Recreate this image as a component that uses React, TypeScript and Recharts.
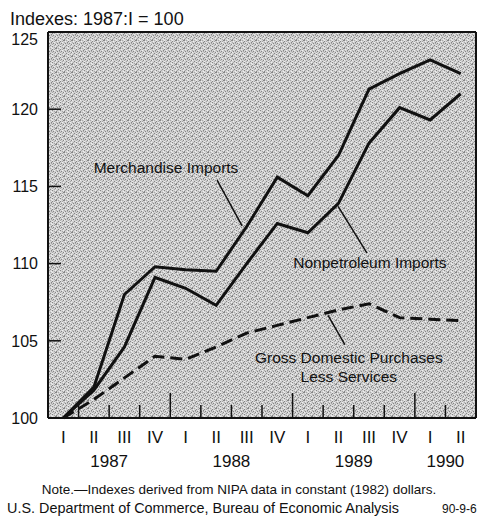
import React from 'react';
import {
  LineChart,
  Line,
  XAxis,
  YAxis,
  CartesianGrid,
  ReferenceLine,
  ReferenceDot,
  Customized,
} from 'recharts';

// ---- data ----
const quarters = ['I', 'II', 'III', 'IV', 'I', 'II', 'III', 'IV', 'I', 'II', 'III', 'IV', 'I', 'II'];
const yearOfQuarter = ['1987', '1987', '1987', '1987', '1988', '1988', '1988', '1988', '1989', '1989', '1989', '1989', '1990', '1990'];
const merchandise = [100, 102.0, 108.0, 109.8, 109.6, 109.5, 112.4, 115.6, 114.4, 117.0, 121.3, 122.3, 123.2, 122.3];
const nonpetroleum = [100, 101.8, 104.6, 109.1, 108.4, 107.3, 110.0, 112.6, 112.0, 113.9, 117.8, 120.1, 119.3, 121.0];
const grossDomestic = [100, 101.2, 102.6, 104.0, 103.8, 104.6, 105.5, 106.0, 106.5, 107.0, 107.4, 106.5, 106.4, 106.3];
const yTicks = [100, 105, 110, 115, 120, 125];

const titleText = 'Indexes: 1987:I = 100';
const noteText = 'Note.\u2014Indexes derived from NIPA data in constant (1982) dollars.';
const sourceText = 'U.S. Department of Commerce, Bureau of Economic Analysis';
const codeText = '90-9-6';

const FONT = '"Liberation Sans", Arial, Helvetica, sans-serif';

const rows = quarters.map((q, i) => ({
  i,
  merch: merchandise[i],
  nonpet: nonpetroleum[i],
  gdp: grossDomestic[i],
}));

// x ticks: quarter centres (labels) and quarter boundaries (inner tick marks)
const xTicks: number[] = [];
for (let i = 0; i < quarters.length; i++) {
  xTicks.push(i);
  if (i < quarters.length - 1) xTicks.push(i + 0.5);
}

// year label centred on its quarters
const yearCenters: Record<string, string> = {};
{
  const seen: Record<string, number[]> = {};
  yearOfQuarter.forEach((y, i) => {
    (seen[y] = seen[y] || []).push(i);
  });
  Object.keys(seen).forEach((y) => {
    const idx = seen[y];
    yearCenters[String((idx[0] + idx[idx.length - 1]) / 2)] = y;
  });
}

const XTick = (props: any) => {
  const { x, y, payload } = props;
  const v = payload.value as number;
  if (Number.isInteger(v)) {
    return (
      <text x={x} y={y + 25} textAnchor="middle" fontSize={17} fontFamily={FONT} fill="#111">
        {quarters[v]}
      </text>
    );
  }
  const isYearBreak = yearOfQuarter[Math.floor(v)] !== yearOfQuarter[Math.ceil(v)];
  const len = isYearBreak ? 25 : 13;
  const yr = yearCenters[String(v)];
  return (
    <g>
      <line x1={x} x2={x} y1={y} y2={y - len} stroke="#111" strokeWidth={1.5} />
      {yr && (
        <text x={x} y={y + 49} textAnchor="middle" fontSize={17} fontFamily={FONT} fill="#111">
          {yr}
        </text>
      )}
    </g>
  );
};

const LeftTick = (props: any) => {
  const { x, y, payload } = props;
  const v = payload.value as number;
  const dy = v === yTicks[yTicks.length - 1] ? 7 : 0;
  return (
    <g>
      <line x1={x} x2={x + 13} y1={y} y2={y} stroke="#111" strokeWidth={1.5} />
      <text x={x - 10} y={y + dy} dy="0.36em" textAnchor="end" fontSize={16} fontFamily={FONT} fill="#111">
        {v}
      </text>
    </g>
  );
};

const RightTick = (props: any) => {
  const { x, y } = props;
  return <line x1={x - 13} x2={x} y1={y} y2={y} stroke="#111" strokeWidth={1.5} />;
};

// stipple texture tile: d = dark, m = mid, w = light, . = base
const stippleTile = [
  'd.m.w..d',
  '.w..d.m.',
  'm..d..w.',
  '.d.m.d..',
  'w...m..d',
  '..d.w.m.',
  '.m..d..w',
  'd..w..m.',
];
const stippleColors: Record<string, string> = { d: '#858585', m: '#a8a8a8', w: '#eeeeee' };

const Decor = () => (
  <g>
    <defs>
      <pattern id="stipple" width="8" height="8" patternUnits="userSpaceOnUse">
        <rect width="8" height="8" fill="#d2d2d2" />
        {stippleTile.map((row, r) =>
          row.split('').map((c, k) =>
            c === '.' ? null : (
              <rect key={`${r}-${k}`} x={k} y={r} width={1} height={1} fill={stippleColors[c]} />
            )
          )
        )}
      </pattern>
    </defs>
    <text x={10} y={25} fontSize={18} fontFamily={FONT} fill="#111">
      {titleText}
    </text>
    <text x={239} y={494} textAnchor="middle" fontSize={13.5} fontFamily={FONT} fill="#111">
      {noteText}
    </text>
    <text x={7} y={513} fontSize={14.4} fontFamily={FONT} fill="#111">
      {sourceText}
    </text>
    <text x={442} y={513} fontSize={12} fontFamily={FONT} fill="#111">
      {codeText}
    </text>
  </g>
);

// annotation leaders (data coordinates)
const merchLeader = [{ x: 5.03, y: 115.4 }, { x: 5.85, y: 112.45 }];
const nonpetLeader = [{ x: 8.99, y: 113.7 }, { x: 9.93, y: 110.7 }];
const gdpLeader = [{ x: 8.66, y: 106.65 }, { x: 9.21, y: 104.75 }];

const annLabel = (value: string) => ({
  value,
  position: 'center' as const,
  fontSize: 15.5,
  fontFamily: FONT,
  fill: '#111',
});

export default function App() {
  return (
    <div style={{ position: 'absolute', left: 0, top: 0, width: 477, height: 518, background: '#fff' }}>
      <LineChart
        width={477}
        height={518}
        data={rows}
        margin={{ top: 32, right: 0, bottom: 0, left: 0 }}
      >
        <Customized component={<Decor />} />
        <CartesianGrid fill="url(#stipple)" stroke="none" horizontal={false} vertical={false} yAxisId="left" />
        <XAxis
          type="number"
          dataKey="i"
          domain={[-0.5, 13.5]}
          ticks={xTicks}
          interval={0}
          height={100}
          tickSize={0}
          tickMargin={0}
          tickLine={false}
          axisLine={{ stroke: '#111', strokeWidth: 2 }}
          tick={(p: any) => <XTick {...p} />}
        />
        <YAxis
          yAxisId="left"
          domain={[100, 125]}
          ticks={yTicks}
          interval={0}
          width={48}
          tickSize={0}
          tickMargin={0}
          tickLine={false}
          axisLine={{ stroke: '#111', strokeWidth: 2 }}
          tick={(p: any) => <LeftTick {...p} />}
        />
        <YAxis
          yAxisId="right"
          orientation="right"
          domain={[100, 125]}
          ticks={yTicks}
          interval={0}
          width={1}
          tickSize={0}
          tickMargin={0}
          tickLine={false}
          axisLine={{ stroke: '#111', strokeWidth: 2 }}
          tick={(p: any) => <RightTick {...p} />}
        />
        <ReferenceLine yAxisId="left" y={125} stroke="#111" strokeWidth={2} />

        <ReferenceLine yAxisId="left" segment={merchLeader} stroke="#111" strokeWidth={1.5} />
        <ReferenceLine yAxisId="left" segment={nonpetLeader} stroke="#111" strokeWidth={1.5} />
        <ReferenceLine yAxisId="left" segment={gdpLeader} stroke="#111" strokeWidth={1.5} />

        <Line yAxisId="left" type="linear" dataKey="merch" stroke="#111" strokeWidth={3} dot={false} isAnimationActive={false} />
        <Line yAxisId="left" type="linear" dataKey="nonpet" stroke="#111" strokeWidth={3} dot={false} isAnimationActive={false} />
        <Line yAxisId="left" type="linear" dataKey="gdp" stroke="#111" strokeWidth={3} strokeDasharray="12 6" dot={false} isAnimationActive={false} />

        <ReferenceDot yAxisId="left" x={3.36} y={116.2} r={0} fill="none" stroke="none" label={annLabel('Merchandise Imports')} />
        <ReferenceDot yAxisId="left" x={10.03} y={110.05} r={0} fill="none" stroke="none" label={annLabel('Nonpetroleum Imports')} />
        <ReferenceDot yAxisId="left" x={9.34} y={103.95} r={0} fill="none" stroke="none" label={annLabel('Gross Domestic Purchases')} />
        <ReferenceDot yAxisId="left" x={9.34} y={102.66} r={0} fill="none" stroke="none" label={annLabel('Less Services')} />
      </LineChart>
    </div>
  );
}
